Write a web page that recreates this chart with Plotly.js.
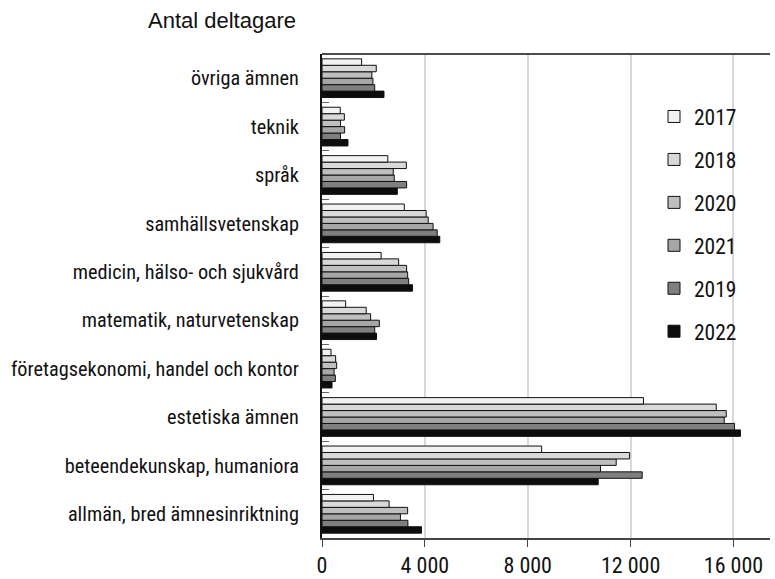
<!DOCTYPE html>
<html>
<head>
<meta charset="utf-8">
<script src="https://cdn.plot.ly/plotly-3.0.1.min.js"></script>
<style>html,body{margin:0;padding:0;background:#fff;}#chart{width:775px;height:579px;}</style>
</head>
<body>
<div id="chart"></div>
<script>
var categories = [
  "allmän, bred ämnesinriktning",
  "beteendekunskap, humaniora",
  "estetiska ämnen",
  "företagsekonomi, handel och kontor",
  "matematik, naturvetenskap",
  "medicin, hälso- och sjukvård",
  "samhällsvetenskap",
  "språk",
  "teknik",
  "övriga ämnen"
];
var v2017 = [2000, 8540, 12500, 350, 920, 2300, 3200, 2560, 710, 1540];
var v2018 = [2610, 11960, 15330, 530, 1720, 2980, 4050, 3280, 870, 2110];
var v2020 = [3330, 11440, 15720, 570, 1890, 3290, 4130, 2770, 720, 1940];
var v2021 = [3050, 10830, 15640, 470, 2230, 3330, 4320, 2810, 880, 1980];
var v2019 = [3340, 12450, 16040, 520, 2050, 3370, 4480, 3290, 720, 2050];
var v2022 = [3870, 10740, 16270, 390, 2120, 3520, 4580, 2930, 1010, 2410];

var years = ["2017", "2018", "2020", "2021", "2019", "2022"];
var seriesValues = [v2017, v2018, v2020, v2021, v2019, v2022];
var colors = ["#f2f2f2", "#d9d9d9", "#bfbfbf", "#a6a6a6", "#7f7f7f", "#0d0d0d"];

var narrow = "Roboto Condensed, Liberation Sans, sans-serif";
var traces = [];
for (var i = years.length - 1; i >= 0; i--) {
  traces.push({
    type: "bar",
    orientation: "h",
    name: years[i],
    legendgroup: years[i],
    legendrank: i + 1,
    y: categories,
    x: seriesValues[i],
    marker: {color: colors[i], line: {color: "#111", width: 1}},
    hoverinfo: "x+name"
  });
}

var layout = {
  width: 775,
  height: 579,
  margin: {l: 322, r: 5, t: 54, b: 41},
  paper_bgcolor: "#fff",
  plot_bgcolor: "#fff",
  barmode: "group",
  bargap: 0.2,
  bargroupgap: 0,
  separators: ", ",
  font: {family: narrow, color: "#111", size: 20},
  title: {
    text: "Antal deltagare",
    font: {family: "Liberation Sans, Arial, sans-serif", size: 22, color: "#111"},
    xref: "container", x: 148 / 775, xanchor: "left",
    yref: "container", y: 1 - 20 / 579, yanchor: "middle"
  },
  xaxis: {
    range: [0, 17420],
    dtick: 4000,
    tick0: 0,
    tickformat: ",d",
    showgrid: true,
    gridcolor: "#d9d9d9",
    gridwidth: 2,
    zeroline: false,
    showline: true,
    linecolor: "#444",
    linewidth: 1.5,
    ticks: "outside",
    ticklen: 7,
    tickcolor: "#444",
    tickfont: {family: narrow, size: 22, color: "#111"},
    fixedrange: true
  },
  yaxis: {
    type: "category",
    showgrid: false,
    zeroline: false,
    showline: true,
    linecolor: "#111",
    linewidth: 2,
    ticks: "inside",
    tickson: "boundaries",
    ticklen: 7,
    tickcolor: "#666",
    ticklabelstandoff: 17,
    tickfont: {family: narrow, size: 20.3, color: "#111"},
    fixedrange: true
  },
  legend: {
    traceorder: "grouped",
    tracegroupgap: 12,
    bgcolor: "rgba(0,0,0,0)",
    font: {family: narrow, size: 21.5, color: "#111"},
    itemwidth: 30
  },
  shapes: [{
    type: "line", xref: "paper", yref: "paper",
    x0: 0, x1: 1, y0: 1, y1: 1,
    line: {color: "#111", width: 1.5}
  }]
};
layout.legend.x = (654 - 322) / (775 - 322 - 5);
layout.legend.y = 1 - (96 - 54) / (579 - 54 - 41);
layout.legend.yanchor = "top";
layout.legend.xanchor = "left";

Plotly.newPlot("chart", traces, layout, {displayModeBar: false, staticPlot: true});
</script>
</body>
</html>
